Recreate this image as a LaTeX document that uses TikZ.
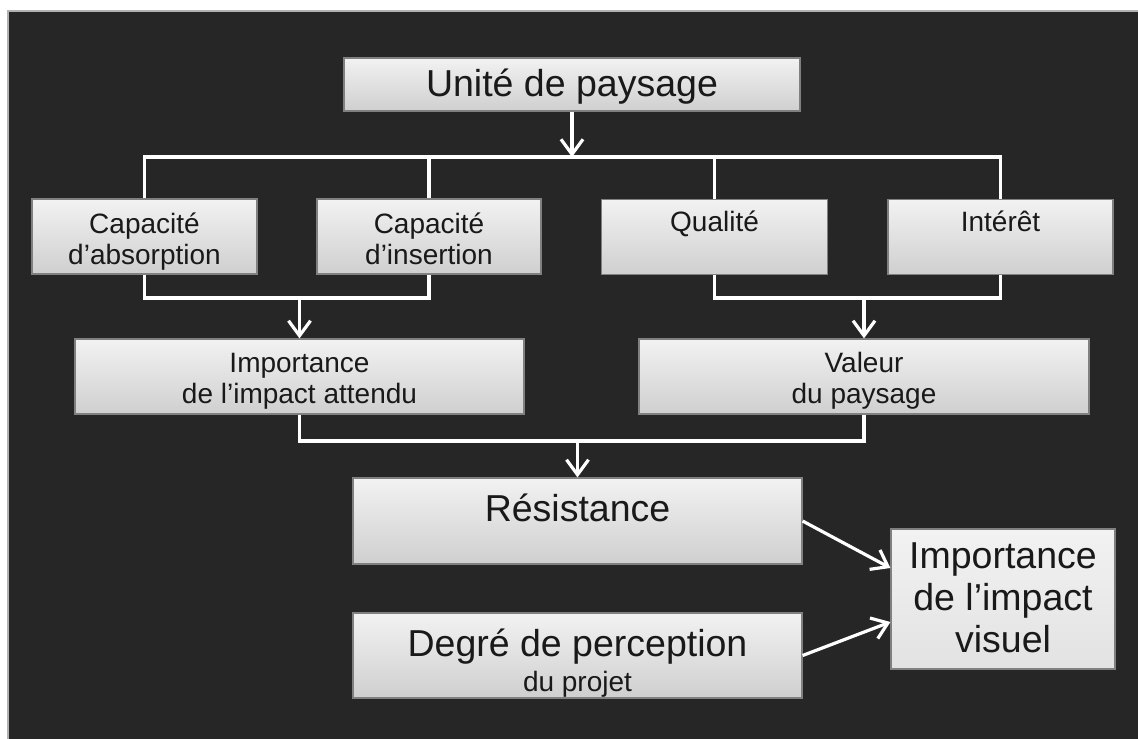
\documentclass[tikz,border=0pt]{standalone}
\usepackage{fontspec}
\setmainfont{Liberation Sans}
\usetikzlibrary{arrows.meta, positioning}

\definecolor{fondsombre}{HTML}{262626}
\definecolor{hautboite}{HTML}{F2F2F2}
\definecolor{basboite}{HTML}{CFCFCF}
\definecolor{bordboite}{HTML}{808080}

\newcommand\grandtxt{\fontsize{18.75}{21}\selectfont}
\newcommand\petittxt{\fontsize{14}{15.5}\selectfont}

\tikzset{
  boite/.style={draw=bordboite, line width=0.6pt, top color=hautboite, bottom color=basboite, inner sep=0pt},
  texte/.style={inner sep=0pt, align=center, text=black!90},
  fil/.style={draw=white, line width=1.6pt},
  fleche/.style={fil, -{Straight Barb[length=7.5pt, width=11pt]}},
}

\begin{document}
\begin{tikzpicture}[x=0.5pt, y=-0.5pt]
\useasboundingbox (0,0) rectangle (1138,738);
% fond
\fill[white] (0,0) rectangle (1138,738);
\draw[draw=gray!60, fill=fondsombre, line width=1pt] (8,11) rectangle (1150,750);
% boites
\node[boite, minimum width=228pt, minimum height=26.5pt] (unite) at (572,84.5) {};
\node[boite, minimum width=112.5pt, minimum height=37.5pt] (absorp) at (144.5,236.5) {};
\node[boite, minimum width=112pt, minimum height=37.5pt] (insert) at (429,236.5) {};
\node[boite, minimum width=113pt, minimum height=37.5pt] (qual) at (714.5,237) {};
\node[boite, minimum width=112.5pt, minimum height=37.5pt] (inter) at (1000.5,237) {};
\node[boite, minimum width=224.5pt, minimum height=37.5pt] (impatt) at (299.5,376.5) {};
\node[boite, minimum width=225pt, minimum height=37.5pt] (valeur) at (864,376.5) {};
\node[boite, minimum width=224.5pt, minimum height=43pt] (res) at (577.5,521) {};
\node[boite, minimum width=224.5pt, minimum height=42.5pt] (degre) at (577.5,655.5) {};
\node[boite, minimum width=112pt, minimum height=70pt, bottom color=basboite!45!hautboite] (impvis) at (1003,599) {};
% textes
\node[texte, font=\grandtxt, below=5.5pt of unite.north] (unite-t) {Unité de paysage};
\node[texte, font=\petittxt, below=7pt of absorp.north] (absorp-t) {Capacité\\d’absorption};
\node[texte, font=\petittxt, below=7pt of insert.north] (insert-t) {Capacité\\d’insertion};
\node[texte, font=\petittxt, below=6pt of qual.north] (qual-t) {Qualité};
\node[texte, font=\petittxt, below=6pt of inter.north] (inter-t) {Intérêt};
\node[texte, font=\petittxt, below=7pt of impatt.north] (impatt-t) {Importance\\de l’impact attendu};
\node[texte, font=\petittxt, below=6.5pt of valeur.north] (valeur-t) {Valeur\\du paysage};
\node[texte, font=\grandtxt, below=8pt of res.north] (res-t) {Résistance};
\node[texte, font=\grandtxt, below=8pt of degre.north] (degre-t) {Degré de perception\\[-3.5pt]{\petittxt du projet}};
\node[texte, font=\grandtxt, below=7pt of impvis.north] (impvis-t) {Importance\\de l’impact\\visuel};
% liaisons
\coordinate (split) at (572,157);
\coordinate (join1) at (299.5,298);
\coordinate (join2) at (864,298);
\coordinate (join3) at (577.5,441);
\draw[fleche] (unite.south) -- (unite.south |- split);
\draw[fil] (absorp.north) |- (split) -| (inter.north);
\draw[fil] (insert.north) -- (insert.north |- split);
\draw[fil] (qual.north) -- (qual.north |- split);
\draw[fil] (absorp.south) |- (join1) -| (insert.south);
\draw[fleche] (impatt.north |- join1) -- (impatt.north);
\draw[fil] (qual.south) |- (join2) -| (inter.south);
\draw[fleche] (valeur.north |- join2) -- (valeur.north);
\draw[fil] (impatt.south) |- (join3) -| (valeur.south);
\draw[fleche] (res.north |- join3) -- (res.north);
\draw[fleche] (res.east) -- ([yshift=15.5pt]impvis.west);
\draw[fleche] (degre.east) -- ([yshift=-11.5pt]impvis.west);
\end{tikzpicture}
\end{document}
